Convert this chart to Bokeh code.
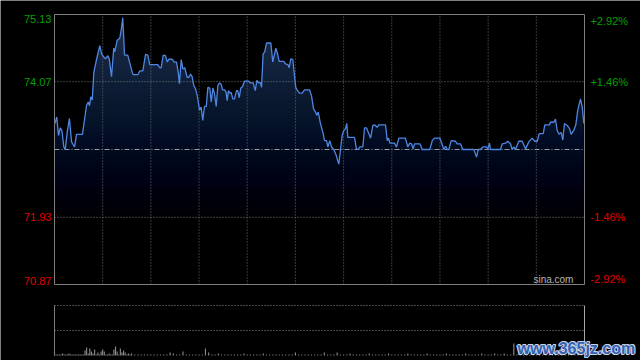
from bokeh.plotting import figure
from bokeh.models import Range1d, Label
from bokeh.embed import file_html
from bokeh.resources import INLINE

# ---------------- data ----------------
prev_close = 73.00
y_low, y_high = 70.87, 75.13
session_minutes = 330  # HK session 9:30-12:00, 13:00-16:00
grid_minutes = [30, 60, 90, 120, 150, 180, 210, 240, 270, 300]

left_ticks = [75.13, 74.07, 71.93, 70.87]
left_labels = ["75.13", "74.07", "71.93", "70.87"]
right_labels = ["+2.92%", "+1.46%", "-1.46%", "-2.92%"]
tick_colors = ["#00a000", "#00a000", "#e00000", "#e00000"]
tick_baselines = ["top", "middle", "middle", "bottom"]
dotted_levels = [74.07, 71.93]

minutes = [
    0.2, 1.4, 2.5, 3.6, 4.6, 5.8, 6.7, 7.9, 9.3, 10.6,
    12.5, 13.7, 17.4, 19.9, 21.0, 21.8, 22.6, 23.5, 24.5, 26.0,
    28.2, 29.3, 30.7, 31.8, 33.2, 34.1, 35.5, 36.9, 37.5, 39.0,
    40.7, 41.5, 42.5, 43.6, 45.6, 48.4, 49.0, 51.9, 53.1, 55.0,
    56.7, 58.1, 59.3, 64.3, 65.6, 66.4, 67.7, 69.1, 70.2, 71.4,
    73.5, 74.5, 76.0, 77.0, 77.8, 78.9, 79.9, 81.1, 82.6, 83.6,
    84.7, 85.7, 86.7, 87.8, 88.9, 90.3, 91.3, 92.3, 93.4, 94.5,
    95.5, 96.7, 97.6, 98.6, 99.6, 100.7, 101.7, 102.7, 103.8, 104.6,
    105.9, 106.9, 107.5, 108.3, 109.2, 110.0, 111.0, 112.1, 113.3, 114.1,
    115.0, 116.0, 117.1, 118.3, 120.8, 122.0, 123.7, 125.0, 126.0, 127.0,
    128.1, 128.9, 129.9, 130.9, 132.0, 134.7, 135.9, 137.8, 138.9, 139.9,
    142.8, 143.8, 145.3, 146.1, 147.1, 148.4, 149.2, 150.2, 151.5, 152.6,
    154.2, 155.7, 158.8, 160.0, 161.3, 162.5, 163.3, 164.2, 165.6, 167.3,
    168.1, 169.4, 170.2, 171.4, 172.5, 173.9, 175.4, 177.0, 178.1, 179.1,
    180.1, 181.2, 182.0, 182.6, 186.8, 188.0, 189.1, 190.1, 192.0, 193.0,
    194.3, 196.8, 198.2, 199.2, 200.9, 201.9, 206.1, 207.2, 208.0, 208.8,
    211.7, 212.9, 214.4, 218.5, 220.0, 221.2, 222.3, 223.3, 224.2, 227.5,
    229.0, 233.7, 235.2, 236.6, 239.9, 241.4, 242.4, 243.5, 244.5, 245.5,
    247.0, 249.7, 250.7, 252.8, 254.2, 261.1, 262.8, 263.8, 265.2, 266.7,
    269.0, 269.8, 270.8, 271.5, 277.7, 278.8, 280.8, 282.2, 283.9, 285.0,
    286.0, 287.0, 289.1, 291.2, 293.3, 295.3, 297.4, 299.1, 300.6, 301.8,
    304.3, 305.3, 308.2, 308.8, 310.9, 311.9, 313.0, 314.2, 315.5, 316.5,
    317.5, 319.2, 320.7, 321.7, 323.3, 324.6, 325.8, 327.5, 328.6, 329.6,
]
prices = [
    73.41, 73.51, 73.22, 73.34, 73.30, 73.04, 73.00, 73.27, 73.49, 73.12,
    73.04, 73.24, 73.24, 73.69, 73.75, 73.69, 73.83, 73.78, 74.22, 74.40,
    74.64, 74.51, 74.46, 74.43, 74.48, 74.43, 74.15, 74.60, 74.54, 74.72,
    74.76, 74.88, 75.08, 74.49, 74.49, 74.22, 74.18, 74.18, 74.24, 74.24,
    74.50, 74.49, 74.34, 74.34, 74.29, 74.29, 74.49, 74.48, 74.38, 74.43,
    74.42, 74.38, 74.38, 74.22, 74.04, 74.42, 74.27, 74.29, 74.14, 74.14,
    74.19, 74.15, 74.01, 73.96, 73.85, 73.62, 73.67, 73.46, 73.68, 73.68,
    73.98, 73.97, 73.75, 73.97, 73.88, 73.68, 74.01, 74.05, 74.03, 73.94,
    73.94, 73.90, 73.77, 73.93, 73.89, 73.90, 73.80, 73.80, 73.93, 73.93,
    73.82, 73.97, 73.99, 74.08, 74.08, 74.05, 74.05, 73.93, 74.09, 74.05,
    74.06, 73.98, 74.51, 74.54, 74.68, 74.68, 74.38, 74.60, 74.51, 74.39,
    74.39, 74.35, 74.34, 74.29, 74.43, 74.42, 74.22, 73.98, 73.92, 73.89,
    73.89, 73.94, 73.94, 73.85, 73.64, 73.59, 73.54, 73.59, 73.41, 73.25,
    73.14, 73.14, 73.04, 73.14, 73.04, 73.00, 72.91, 72.77, 73.00, 73.22,
    73.30, 73.33, 73.41, 73.19, 73.19, 73.01, 73.00, 73.04, 73.04, 73.34,
    73.34, 73.18, 73.38, 73.39, 73.35, 73.39, 73.39, 73.14, 73.18, 73.10,
    73.10, 73.04, 73.18, 73.18, 73.04, 73.10, 73.09, 73.01, 73.09, 73.09,
    73.00, 73.00, 73.14, 73.18, 73.18, 73.08, 73.00, 73.05, 73.00, 73.00,
    73.14, 73.13, 73.09, 73.09, 73.00, 73.00, 72.88, 73.00, 73.00, 73.04,
    73.04, 73.00, 73.10, 73.00, 73.00, 73.09, 73.10, 73.13, 73.09, 73.00,
    73.04, 73.00, 73.13, 73.13, 73.01, 73.12, 73.18, 73.13, 73.13, 73.25,
    73.25, 73.39, 73.39, 73.43, 73.43, 73.48, 73.30, 73.24, 73.27, 73.15,
    73.41, 73.38, 73.33, 73.24, 73.30, 73.39, 73.62, 73.80, 73.67, 73.41,
]

vol_minutes = list(range(0, 49)) + list(range(50, 330, 2))
volumes = [
    4, 1, 1, 1, 1, 2, 1, 1, 1, 2,
    1, 1, 1, 1, 1, 1, 1, 1, 1, 5,
    8, 2, 7, 4, 2, 6, 1, 3, 1, 4,
    6, 4, 1, 1, 2, 1, 1, 6, 9, 4,
    1, 7, 3, 5, 3, 1, 2, 1, 2,
    1, 1, 1, 1, 1, 1, 1, 1, 1, 1,
    1, 3, 2, 1, 1, 4, 1, 1, 1, 1,
    1, 1, 7, 3, 1, 1, 2, 1, 1, 1,
    1, 1, 1, 1, 2, 1, 1, 1, 1, 1,
    2, 1, 1, 1, 1, 1, 1, 1, 1, 1,
    3, 1, 1, 1, 1, 1, 1, 1, 1, 3,
    1, 1, 1, 3, 1, 1, 1, 2, 1, 1,
    1, 1, 1, 2, 1, 1, 1, 1, 1, 2,
    1, 1, 1, 1, 1, 2, 1, 1, 1, 1,
    1, 2, 1, 1, 1, 1, 1, 2, 1, 1,
    1, 1, 1, 2, 1, 1, 1, 1, 2, 1,
    1, 1, 2, 1, 1, 2, 1, 1, 12, 1,
    2, 1, 2, 1, 2, 1, 2, 1, 2, 1,
    2, 3, 1, 2, 1, 2, 1, 2, 3, 2,
]
vol_max = 50

# ---------------- layout (pixels) ----------------
W, H = 640, 360
plot_left, plot_right = 54, 584
price_top, price_bottom = 14, 284
vol_top, vol_bottom = 305, 355

px_per_min = (plot_right - plot_left) / session_minutes
px_per_price = (price_bottom - price_top) / (y_high - y_low)
px_per_vol = (vol_bottom - vol_top) / vol_max

x_rng = Range1d(-plot_left / px_per_min, session_minutes + (W - plot_right) / px_per_min)
y_rng = Range1d(y_low - (H - price_bottom) / px_per_price, y_high + price_top / px_per_price)
v_rng = Range1d(-(H - vol_bottom) / px_per_vol, vol_max + vol_top / px_per_vol)

BG = "#000000"
p = figure(width=W, height=H, x_range=x_rng, y_range=y_rng,
           output_backend="svg", toolbar_location=None,
           x_axis_location=None, y_axis_location=None,
           min_border_left=0, min_border_right=0,
           min_border_top=0, min_border_bottom=0,
           background_fill_color=BG, border_fill_color=BG,
           outline_line_color=None)
p.extra_y_ranges = {"vol": v_rng}
p.xgrid.visible = False
p.ygrid.visible = False

# ---- price area with vertical fade (nested black overlays, no seams) ----
p.varea(x=minutes, y1=y_low, y2=prices, fill_color="#1e2e52", fill_alpha=1.0)
n_layers = 60
step = (y_high - y_low) / n_layers
layer_tops = [y_low + j * step for j in range(1, n_layers + 1)]
layer_alphas = [1.0 - (j - 0.5) / (j + 0.5) for j in range(1, n_layers)]
layer_alphas.append(1.0 - (n_layers - 0.5) / n_layers)
p.quad(left=0, right=session_minutes, bottom=y_low, top=layer_tops,
       fill_color="black", fill_alpha=layer_alphas, line_color=None)

# ---- grid ----
p.segment(x0=grid_minutes, y0=y_low, x1=grid_minutes, y1=y_high,
          line_color="#6e6e6e", line_dash="1 2", line_width=1)
p.segment(x0=0, y0=dotted_levels, x1=session_minutes, y1=dotted_levels,
          line_color="#7a7a7a", line_dash="1 2", line_width=1)
p.segment(x0=[0], y0=[prev_close], x1=[session_minutes], y1=[prev_close],
          line_color="#9a9a9a", line_dash="5 2 1 2", line_width=1)

# ---- price line ----
p.line(minutes, prices, line_color="#4f86e2", line_width=1.3)

# ---- frame ----
p.quad(left=[0], right=[session_minutes], bottom=[y_low], top=[y_high],
       fill_color=None, line_color="#7f7f7f", line_width=1)

for val, lt, rt, col, bl in zip(left_ticks, left_labels, right_labels,
                                tick_colors, tick_baselines):
    p.add_layout(Label(x=-1.9, y=val, text=lt, text_align="right",
                       text_baseline=bl, text_color=col,
                       text_font="Liberation Sans", text_font_size="11px"))
    p.add_layout(Label(x=session_minutes + 3.7, y=val, text=rt,
                       text_align="left", text_baseline=bl, text_color=col,
                       text_font="Liberation Sans", text_font_size="11px"))

p.add_layout(Label(x=323.1, y=70.95, text="sina.com", text_align="right",
                   text_baseline="middle", text_color="#b4b4b4",
                   text_font="Liberation Sans", text_font_size="10px"))

# ---------------- volume panel ----------------
p.vbar(x=vol_minutes, top=volumes, bottom=0, width=0.7,
       fill_color="#8c8c8c", line_color=None, y_range_name="vol")
p.segment(x0=0, y0=[vol_max, vol_max / 2], x1=session_minutes,
          y1=[vol_max, vol_max / 2], line_color="#8a8a8a", line_dash="1 2",
          line_width=1, y_range_name="vol")
p.segment(x0=[0], y0=[0], x1=[0], y1=[vol_max], line_color="#7f7f7f",
          line_width=1, y_range_name="vol")
p.segment(x0=[session_minutes], y0=[0], x1=[session_minutes], y1=[vol_max],
          line_color="#a8a8a8", line_width=1, y_range_name="vol")

wm_text = "www.365jz.com"
for dx, dy in [(-1, 0), (1, 0), (0, -1), (0, 1), (1, 1), (-1, -1)]:
    p.add_layout(Label(x=288.3, y=7, text=wm_text, x_offset=dx, y_offset=dy,
                       y_range_name="vol",
                       text_baseline="middle", text_align="left",
                       text_color="#c9d3e6", text_font="Liberation Sans",
                       text_font_style="bold", text_font_size="16px"))
p.add_layout(Label(x=288.3, y=7, text=wm_text, y_range_name="vol",
                   text_baseline="middle", text_align="left",
                   text_color="#3561b2", text_font="Liberation Sans",
                   text_font_style="bold", text_font_size="16px"))

open("out.html", "w").write(file_html(p, INLINE))
